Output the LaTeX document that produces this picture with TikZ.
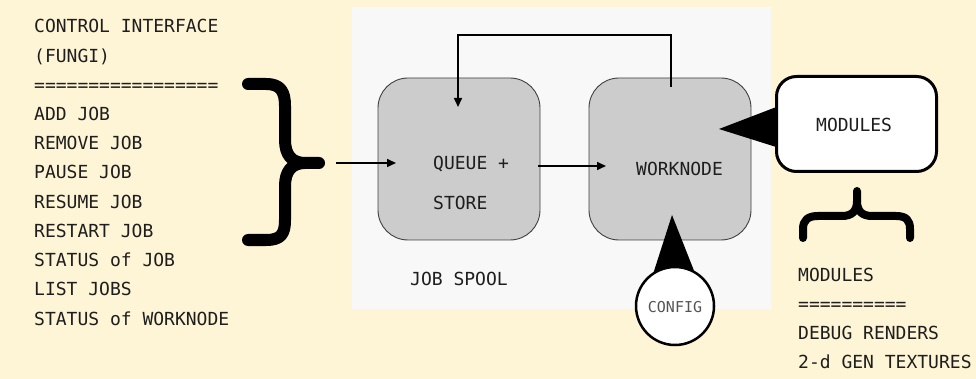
\documentclass[tikz,border=0pt]{standalone}
\usepackage{fontspec}
\setmonofont{DejaVu Sans Mono}
\usetikzlibrary{arrows.meta}
\definecolor{cream}{HTML}{FEF4D6}
\definecolor{panelc}{HTML}{F8F8F8}
\definecolor{boxgray}{HTML}{CCCCCC}
\definecolor{ink}{HTML}{1E1E1E}
\definecolor{cfgtext}{HTML}{555555}
\begin{document}
\begin{tikzpicture}[x=1pt,y=-1pt,
  txt/.style={font=\ttfamily\fontsize{18}{20}\selectfont, text=ink, inner sep=0pt, anchor=base west},
  gbox/.style={draw=black!75, line width=0.9pt, fill=boxgray, rounded corners=30pt, minimum width=162pt, minimum height=162pt},
  arr/.style={line width=1.6pt, -{Triangle[length=9pt,width=8pt]}},
  bigbrace/.style={line width=12pt, line cap=round, line join=round},
  smallbrace/.style={line width=8pt, line cap=round, line join=round}]
\useasboundingbox[fill=cream] (0,0) rectangle (976,379);
% panel
\node (panel) [fill=panelc, minimum width=419pt, minimum height=302pt, anchor=north west, inner sep=0pt] at (352,7) {};
% left text
\foreach \t [count=\i from 0] in {CONTROL INTERFACE,(FUNGI),=================,ADD JOB,REMOVE JOB,PAUSE JOB,RESUME JOB,RESTART JOB,STATUS of JOB,LIST JOBS,STATUS of WORKNODE}
  \node[txt] (l\i) at (34,{33+29.2*\i}) {\t};
% left brace
\draw[bigbrace] (248,84) -- (266,84) .. controls (281,84) and (285,92) .. (285,106) -- (285,140) .. controls (285,155) and (292,163) .. (305,163) -- (319,163);
\draw[bigbrace] (305,163) .. controls (292,163) and (285,171) .. (285,186) -- (285,220) .. controls (285,234) and (281,240) .. (266,240) -- (248,240);
% boxes
\node[gbox] (queue) at (459,159) {};
\node[gbox] (work) at (670,159) {};
\node[txt] (qt1) at (433,170) {QUEUE +};
\node[txt] (qt2) at (433,210) {STORE};
\node[txt] (wt) at (636,176) {WORKNODE};
\node[txt] (spool) at (410,285) {JOB SPOOL};
% connectors
\coordinate (bt) at (336,163);
\coordinate (qin) at (396,163);
\coordinate (qout) at (538,166);
\coordinate (win) at (606,166);
\coordinate (wtop) at (671,87);
\coordinate (qtop) at (458,107);
\draw[arr] (bt) -- (qin);
\draw[arr] (qout) -- (win);
\draw[arr] (wtop) -- (671,35) -| (qtop);
% modules callout
\fill[black] (719,129) -- (792,101) -- (792,152) -- cycle;
\node (mod) [draw=black, line width=3pt, fill=white, rounded corners=20pt, minimum width=160pt, minimum height=95pt] at (856.5,124) {};
\node[txt] (modt) at (816,132) {MODULES};
% config callout
\fill[black] (672,215) -- (646,296) -- (704,296) -- cycle;
\node (cfg) [circle, draw=black, line width=2.5pt, fill=white, minimum size=78pt, inner sep=0pt] at (675,306) {};
\node (cfgt) [font=\ttfamily\fontsize{15}{17}\selectfont, text=cfgtext, inner sep=0pt, anchor=base] at (675,312) {CONFIG};
% modules brace
\draw[smallbrace] (803,238) -- (803,229) .. controls (803,220) and (808,216) .. (818,216) -- (842,216) .. controls (852,216) and (857,211) .. (857,201) -- (857,191);
\draw[smallbrace] (857,201) .. controls (857,211) and (862,216) .. (872,216) -- (896,216) .. controls (906,216) and (910,220) .. (910,229) -- (910,238);
% right text
\foreach \t [count=\i from 0] in {MODULES,==========,DEBUG RENDERS,2-d GEN TEXTURES}
  \node[txt] (r\i) at (798,{281+29*\i}) {\t};
\end{tikzpicture}
\end{document}
